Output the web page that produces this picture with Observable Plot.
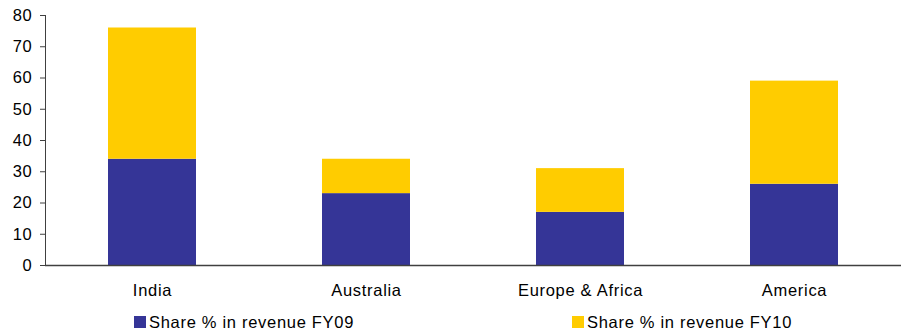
<!DOCTYPE html>
<html><head><meta charset="utf-8">
<script src="https://cdn.jsdelivr.net/npm/d3@7"></script>
<script src="https://cdn.jsdelivr.net/npm/@observablehq/plot@0.6"></script>
<style>
body{margin:0;background:#fff;font-family:"Liberation Sans",Arial,sans-serif;}
#wrap{position:relative;width:907px;height:333px;overflow:hidden;}
.leg{position:absolute;top:314px;font-size:16.5px;letter-spacing:0.7px;color:#000;display:flex;align-items:center;line-height:16px;}
.sw{width:12px;height:12px;margin-right:3px;}
</style></head><body><div id="wrap"></div><script>
const regions = ["India", "Australia", "Europe & Africa", "America"];
const fy09 = [34, 23, 17, 26];
const fy10 = [42, 11, 14, 33];
const seriesNames = ["Share % in revenue FY09", "Share % in revenue FY10"];
const seriesColors = ["#353597", "#FFCC00"];
const yTicks = [0, 10, 20, 30, 40, 50, 60, 70, 80];

const rows = [];
regions.forEach((r, i) => {
  rows.push({region: r, series: seriesNames[0], value: fy09[i]});
  rows.push({region: r, series: seriesNames[1], value: fy10[i]});
});

const chart = Plot.plot({
  width: 907,
  height: 308,
  marginLeft: 45,
  marginRight: 6,
  marginTop: 15,
  marginBottom: 43,
  style: {fontSize: "16.5px", fontFamily: "'Liberation Sans', Arial, sans-serif", letterSpacing: "0.7px", color: "#000", background: "#fff"},
  x: {domain: regions, paddingInner: 0.59, paddingOuter: 0.295, label: null},
  y: {domain: [0, 80], ticks: yTicks, label: null},
  color: {domain: seriesNames, range: seriesColors},
  marks: [
    Plot.barY(rows, {x: "region", y: "value", fill: "series", order: null}),
    Plot.axisY({ticks: yTicks, tickSize: 5, tickPadding: 8, stroke: "#404040", label: null, fill: "#000"}),
    Plot.axisX({tickSize: 0, tickPadding: 19, label: null, fill: "#000"}),
    Plot.frame({anchor: "left", stroke: "#404040"}),
    Plot.ruleY([0], {stroke: "#404040", strokeWidth: 1.5})
  ]
});
const wrap = document.getElementById("wrap");
wrap.appendChild(chart);

const legX = [134, 572];
seriesNames.forEach((s, i) => {
  const d = document.createElement("div");
  d.className = "leg";
  d.style.left = legX[i] + "px";
  const sw = document.createElement("span");
  sw.className = "sw";
  sw.style.background = seriesColors[i];
  d.appendChild(sw);
  d.appendChild(document.createTextNode(s));
  wrap.appendChild(d);
});
</script></body></html>
